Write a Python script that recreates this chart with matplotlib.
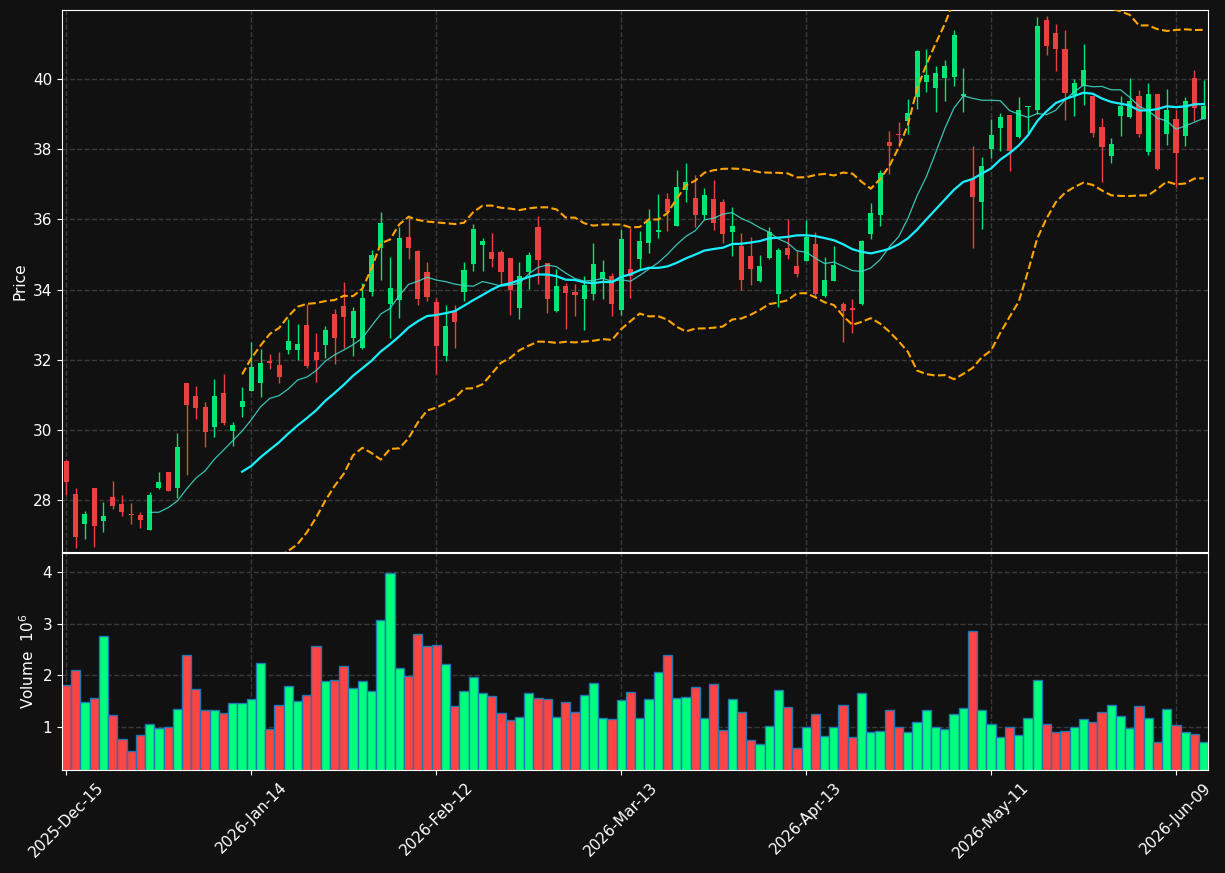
import numpy as np
import pandas as pd
import matplotlib
matplotlib.use("Agg")
import matplotlib.pyplot as plt

# ---- data ----
HOLIDAYS = ["2025-12-25", "2026-01-01", "2026-01-19", "2026-02-16",
            "2026-04-03", "2026-05-25"]
dates = pd.bdate_range("2025-12-15", periods=124, freq="C", holidays=HOLIDAYS)

opens = [29.13, 28.19, 27.32, 28.34, 27.42, 28.10, 27.90, 27.62, 27.59, 27.15,
         28.35, 28.81, 28.36, 31.35, 30.96, 30.65, 30.10, 31.06, 29.97, 30.65,
         31.11, 31.35, 31.98, 31.85, 32.27, 32.27, 33.00, 32.21, 32.42, 33.32,
         33.52, 32.61, 32.34, 33.92, 35.18, 33.60, 33.70, 35.51, 35.11, 34.51,
         33.65, 32.11, 33.40, 33.92, 34.74, 35.28, 35.08, 35.06, 34.91, 33.47,
         34.49, 35.77, 34.76, 33.38, 34.10, 33.93, 33.73, 33.87, 34.30, 34.39,
         33.43, 34.58, 34.86, 35.34, 35.63, 36.59, 35.80, 36.85, 36.62, 36.12,
         36.59, 36.50, 35.63, 35.25, 34.96, 34.25, 34.91, 33.87, 35.19, 34.66,
         34.81, 35.31, 33.83, 34.25, 33.60, 33.47, 33.60, 35.59, 36.12, 38.19,
         38.44, 38.81, 39.48, 39.92, 39.73, 40.02, 40.05, 39.52, 37.15, 36.49,
         38.01, 38.61, 38.97, 38.34, 39.19, 39.12, 41.69, 41.31, 40.84, 39.53,
         39.80, 39.50, 38.64, 37.81, 38.94, 38.91, 39.50, 37.91, 39.58, 38.42,
         38.87, 38.37, 40.02, 38.87]
highs = [29.15, 28.36, 27.70, 28.36, 27.96, 28.56, 28.16, 27.92, 27.68, 28.25,
         28.81, 28.81, 29.92, 31.35, 31.26, 30.81, 31.45, 31.61, 30.22, 31.23,
         32.51, 32.30, 32.16, 32.21, 33.17, 33.01, 33.60, 32.76, 32.96, 33.45,
         34.22, 33.50, 34.20, 35.13, 36.22, 34.93, 35.77, 36.12, 35.14, 34.78,
         33.77, 33.55, 33.55, 34.78, 35.87, 35.48, 35.61, 35.14, 34.91, 34.78,
         35.06, 36.10, 34.76, 34.58, 34.20, 34.15, 34.38, 35.33, 34.83, 34.46,
         35.72, 35.75, 35.67, 36.30, 36.72, 36.75, 37.41, 37.61, 37.26, 36.90,
         37.13, 36.57, 36.35, 35.61, 35.49, 34.99, 35.79, 35.18, 36.00, 35.11,
         35.97, 35.65, 34.94, 35.23, 33.65, 33.73, 35.41, 36.47, 37.41, 38.52,
         38.76, 39.42, 40.83, 40.86, 40.38, 40.55, 41.39, 40.32, 38.10, 37.78,
         38.87, 39.04, 38.97, 39.48, 39.23, 41.76, 41.79, 41.56, 41.38, 40.00,
         40.98, 39.50, 38.89, 38.32, 39.52, 40.03, 39.67, 39.88, 39.58, 39.70,
         39.11, 39.48, 40.25, 39.97]
lows = [28.16, 26.64, 26.90, 26.67, 27.11, 27.75, 27.55, 27.32, 27.20, 27.15,
        28.31, 28.26, 28.08, 28.71, 30.32, 29.52, 29.80, 30.15, 29.54, 30.37,
        31.10, 30.95, 31.73, 31.35, 32.16, 32.01, 31.78, 31.38, 32.06, 31.88,
        32.34, 32.11, 32.32, 33.82, 34.27, 32.61, 33.20, 34.86, 33.57, 33.67,
        31.60, 31.96, 32.34, 33.67, 34.54, 34.54, 34.64, 34.17, 33.27, 33.17,
        34.02, 34.15, 33.33, 33.35, 32.89, 33.25, 32.84, 33.70, 33.73, 33.25,
        33.27, 33.75, 34.58, 35.03, 35.46, 35.67, 35.80, 36.50, 35.79, 36.02,
        35.70, 35.33, 34.96, 34.00, 34.13, 34.23, 34.88, 33.50, 34.88, 34.35,
        34.81, 33.83, 33.80, 34.25, 32.51, 32.76, 33.57, 35.44, 35.80, 37.30,
        38.06, 38.44, 39.14, 39.62, 39.06, 39.37, 39.80, 39.07, 35.18, 35.72,
        37.75, 37.95, 37.38, 38.31, 38.44, 38.99, 40.69, 40.23, 38.82, 38.94,
        39.26, 38.34, 37.05, 37.61, 38.37, 38.89, 38.34, 37.83, 37.41, 38.11,
        36.93, 38.08, 38.79, 38.87]
closes = [28.51, 26.95, 27.62, 27.28, 27.56, 27.85, 27.68, 27.57, 27.43, 28.15,
          28.53, 28.26, 29.52, 30.71, 30.62, 29.94, 30.98, 30.19, 30.14, 30.83,
          31.80, 31.92, 31.90, 31.50, 32.54, 32.46, 31.83, 31.99, 32.86, 32.61,
          33.22, 33.40, 33.77, 35.00, 35.91, 34.05, 35.48, 35.19, 33.73, 33.80,
          32.39, 32.96, 33.07, 34.56, 35.74, 35.38, 34.88, 34.49, 34.00, 34.38,
          35.00, 34.84, 33.73, 34.10, 33.90, 33.85, 34.13, 34.73, 34.51, 33.60,
          35.43, 34.40, 35.38, 35.94, 35.71, 36.22, 36.91, 37.05, 36.12, 36.70,
          35.89, 35.59, 35.80, 34.28, 34.58, 34.68, 35.65, 35.14, 34.98, 34.45,
          35.51, 33.87, 34.28, 34.71, 33.40, 33.43, 35.39, 36.17, 37.33, 38.08,
          38.40, 39.04, 40.78, 40.12, 40.18, 40.38, 41.26, 39.58, 36.65, 37.53,
          38.39, 38.92, 37.96, 39.11, 39.23, 41.51, 40.93, 40.84, 39.60, 39.87,
          40.24, 38.47, 38.05, 38.16, 39.22, 39.36, 38.42, 39.58, 37.43, 39.12,
          37.88, 39.36, 39.16, 39.24]
# volume in millions
volumes = [1.81, 2.10, 1.48, 1.56, 2.76, 1.23, 0.77, 0.54, 0.85, 1.06,
           0.98, 1.00, 1.35, 2.39, 1.74, 1.33, 1.33, 1.28, 1.46, 1.46,
           1.54, 2.24, 0.97, 1.43, 1.79, 1.50, 1.63, 2.57, 1.89, 1.91,
           2.18, 1.75, 1.89, 1.70, 3.07, 3.99, 2.14, 1.99, 2.80, 2.57,
           2.59, 2.22, 1.41, 1.70, 1.97, 1.66, 1.60, 1.27, 1.14, 1.19,
           1.66, 1.56, 1.54, 1.19, 1.48, 1.29, 1.62, 1.85, 1.17, 1.15,
           1.52, 1.68, 1.17, 1.54, 2.06, 2.39, 1.56, 1.58, 1.77, 1.17,
           1.83, 0.94, 1.54, 1.29, 0.75, 0.67, 1.02, 1.72, 1.39, 0.59,
           1.00, 1.25, 0.83, 1.00, 1.43, 0.81, 1.66, 0.90, 0.92, 1.33,
           1.00, 0.90, 1.10, 1.33, 1.00, 0.96, 1.25, 1.37, 2.86, 1.33,
           1.06, 0.81, 1.00, 0.85, 1.17, 1.91, 1.06, 0.90, 0.92, 1.00,
           1.15, 1.10, 1.29, 1.43, 1.21, 0.98, 1.41, 1.17, 0.71, 1.35,
           1.04, 0.90, 0.86, 0.71]

BG = "#111111"
UP_C, DN_C = "#00e676", "#ec4040"
UP_V, DN_V = "#00ff7f", "#ff4444"

df = pd.DataFrame(dict(Open=opens, High=highs, Low=lows, Close=closes,
                       Volume=volumes), index=dates)
x = np.arange(len(df))
up = df.Close.values >= df.Open.values

mav10 = df.Close.rolling(10).mean()
mav20 = df.Close.rolling(20).mean()
sd20 = df.Close.rolling(20).std()
bb_hi = mav20 + 2 * sd20
bb_lo = mav20 - 2 * sd20

fig = plt.figure(figsize=(12.25, 8.73), dpi=100, facecolor=BG)
ax = fig.add_axes([0.0506, 0.3677, 0.9355, 0.6208], facecolor=BG)
axv = fig.add_axes([0.0506, 0.118, 0.9355, 0.2486], facecolor=BG, sharex=ax)

# ---- candles ----
ccol = np.where(up, UP_C, DN_C)
ax.vlines(x, df.Low, df.High, colors=ccol, lw=1.0, zorder=2)
body_lo = np.minimum(df.Open, df.Close)
body_h = np.maximum(np.abs(df.Close - df.Open), 0.03)
ax.bar(x, body_h, bottom=body_lo, width=0.55, color=ccol, lw=0, zorder=3)

ax.plot(x, mav10, color="#40e0d0", lw=0.9, alpha=0.85, zorder=4)
ax.plot(x, mav20, color="#19f0ff", lw=1.6, zorder=4)
ax.plot(x, bb_hi, color="orange", ls="--", lw=1.5, zorder=4)
ax.plot(x, bb_lo, color="orange", ls="--", lw=1.5, zorder=4)

ax.set_ylim(26.53, 41.96)
ax.set_yticks(np.arange(28, 41, 2))
ax.set_ylabel("Price", color="white", fontsize=11)

# ---- volume ----
vcol = np.where(up, UP_V, DN_V)
axv.bar(x, df.Volume, width=1.0, color=vcol, edgecolor="#1f77b4", lw=1.0)
axv.set_ylim(0.17, 4.37)
axv.set_yticks([1, 2, 3, 4])
axv.set_ylabel("Volume  $10^{6}$", color="white", fontsize=11)

ticks = x[::20]
axv.set_xlim(-0.48, 123.46)
axv.set_xticks(ticks)
axv.set_xticklabels([d.strftime("%Y-%b-%d") for d in df.index[ticks]],
                    rotation=45)
plt.setp(ax.get_xticklabels(), visible=False)

for a in (ax, axv):
    a.grid(True, ls="--", color="#3a3a3a", lw=1.0)
    a.set_axisbelow(True)
    a.tick_params(colors="white", labelsize=11)
    for s in a.spines.values():
        s.set_color("white")

fig.savefig("out.png", dpi=100, facecolor=BG)
